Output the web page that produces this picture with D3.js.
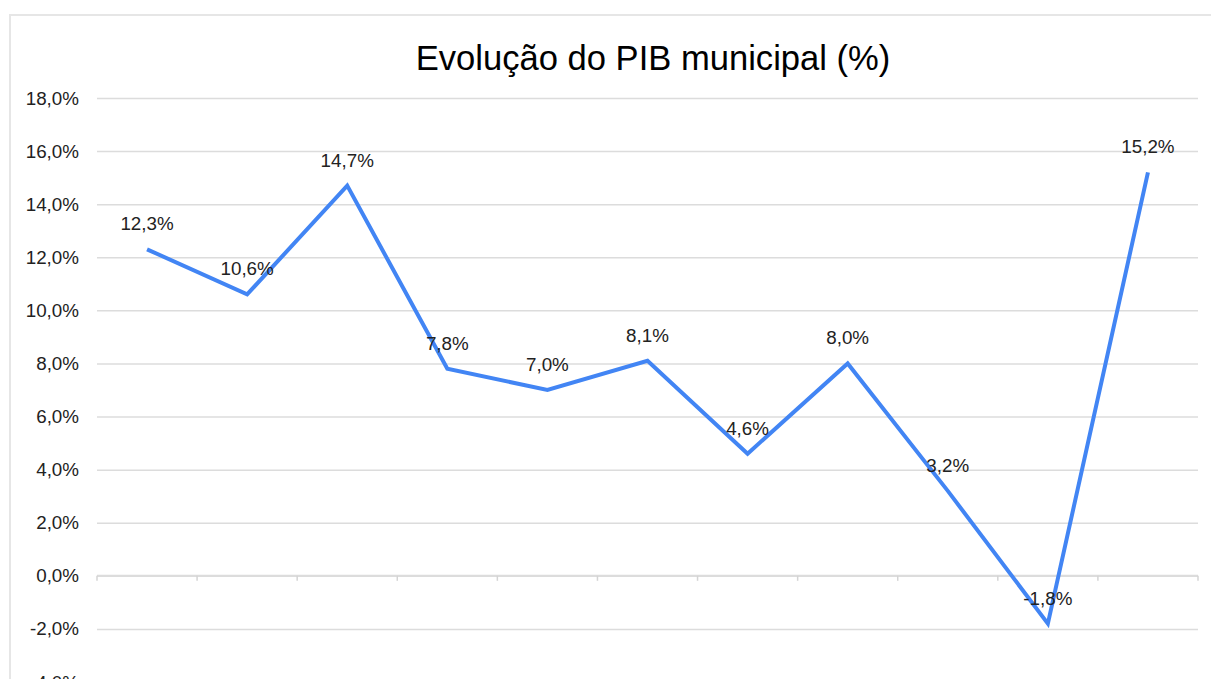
<!DOCTYPE html>
<html>
<head>
<meta charset="utf-8">
<script src="https://cdn.jsdelivr.net/npm/d3@7"></script>
<style>
  html, body { margin: 0; padding: 0; background: #fff; overflow: hidden; }
  svg { display: block; font-family: "Liberation Sans", Arial, sans-serif; }
</style>
</head>
<body>
<svg id="chart" width="1211" height="679"></svg>
<script>
// ---- data ----
const title = "Evolução do PIB municipal (%)";
const categories = ["p1","p2","p3","p4","p5","p6","p7","p8","p9","p10","p11"];
const values = [12.3, 10.6, 14.7, 7.8, 7.0, 8.1, 4.6, 8.0, 3.2, -1.8, 15.2];
const yTicks = [-4, -2, 0, 2, 4, 6, 8, 10, 12, 14, 16, 18];

const fmt = v => v.toFixed(1).replace(".", ",") + "%";

const svg = d3.select("#chart");

// outer frame
svg.append("rect")
  .attr("x", 10).attr("y", 15)
  .attr("width", 1240).attr("height", 700)
  .attr("fill", "#fff")
  .attr("stroke", "#e6e6e6").attr("stroke-width", 2);

const x = d3.scaleBand().domain(categories).range([97, 1198]).padding(0);
const y = d3.scaleLinear().domain([-4, 18]).range([682, 98]);

// gridlines + y labels
const yAxis = d3.axisLeft(y)
  .tickValues(yTicks)
  .tickSize(-(1198 - 97))
  .tickPadding(18)
  .tickFormat(fmt);

const gy = svg.append("g").attr("transform", "translate(97,0)").call(yAxis);
gy.select(".domain").remove();
gy.selectAll(".tick line").attr("stroke", "#dcdcdc").attr("stroke-width", 1.5);
gy.selectAll(".tick text")
  .attr("font-size", 18.8).attr("fill", "#222")
  .attr("font-family", "'Liberation Sans', Arial, sans-serif");

// x axis on zero line with ticks at band boundaries
const boundaries = categories.map(c => x(c)).concat([x.range()[1]]);
const gx = svg.append("g");
gx.append("line")
  .attr("x1", x.range()[0]).attr("x2", x.range()[1])
  .attr("y1", y(0)).attr("y2", y(0))
  .attr("stroke", "#dcdcdc").attr("stroke-width", 2);
gx.selectAll("line.tk").data(boundaries).enter().append("line")
  .attr("class", "tk")
  .attr("x1", d => d).attr("x2", d => d)
  .attr("y1", y(0)).attr("y2", y(0) + 5)
  .attr("stroke", "#d4d4d4").attr("stroke-width", 1.5);

// line
const pts = categories.map((c, i) => ({ c, v: values[i] }));
const line = d3.line().x(d => x(d.c) + x.bandwidth() / 2).y(d => y(d.v));
svg.append("path")
  .datum(pts)
  .attr("d", line)
  .attr("fill", "none")
  .attr("stroke", "#4285f4")
  .attr("stroke-width", 4)
  .attr("stroke-linejoin", "miter");

// data labels
svg.selectAll("text.lbl").data(pts).enter().append("text")
  .attr("class", "lbl")
  .attr("x", d => x(d.c) + x.bandwidth() / 2)
  .attr("y", d => y(d.v) - 19)
  .attr("text-anchor", "middle")
  .attr("font-size", 18.8)
  .attr("fill", "#222")
  .text(d => fmt(d.v));

// title
svg.append("text")
  .attr("x", 653).attr("y", 70)
  .attr("text-anchor", "middle")
  .attr("font-size", 34.6)
  .attr("fill", "#000")
  .text(title);
</script>
</body>
</html>
